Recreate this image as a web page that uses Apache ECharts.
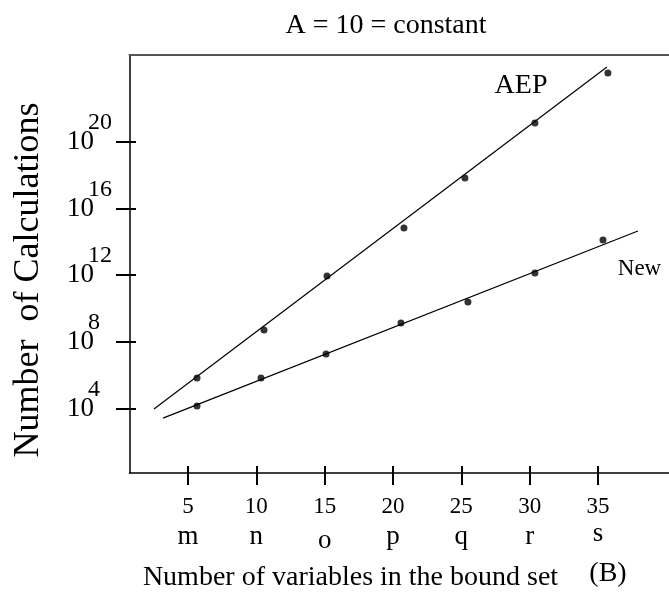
<!DOCTYPE html>
<html>
<head>
<meta charset="utf-8">
<title>Number of Calculations</title>
<script src="https://cdn.jsdelivr.net/npm/echarts@6/dist/echarts.min.js"></script>
<style>
  html, body { margin: 0; padding: 0; background: #fff; }
  #chart { width: 669px; height: 594px; }
</style>
</head>
<body>
<div id="chart"></div>
<script>
  var FONT = '"Liberation Serif", "Times New Roman", serif';

  // measured points, y kept as log10 of the number of calculations
  var aepX = [5.66, 10.56, 15.17, 20.80, 25.26, 30.38, 35.72];
  var aepLog10 = [5.84, 8.72, 11.95, 14.83, 17.82, 21.12, 24.11];
  var newX = [5.66, 10.34, 15.10, 20.58, 25.48, 30.38, 35.36];
  var newLog10 = [4.16, 5.84, 7.28, 9.13, 10.39, 12.13, 14.11];

  // fitted straight lines, end points
  var aepFitX = [2.51, 35.65];
  var aepFitLog10 = [3.98, 24.47];
  var newFitX = [3.17, 37.92];
  var newFitLog10 = [3.44, 14.65];

  var xTicks = [5, 10, 15, 20, 25, 30, 35];
  var xLetters = ['m', 'n', 'o', 'p', 'q', 'r', 's'];
  var yTicks = [4, 8, 12, 16, 20];

  function pairs(xs, ys) {
    return xs.map(function (x, i) { return [x, ys[i]]; });
  }

  var chart = echarts.init(document.getElementById('chart'));

  var xRange = { min: 0.72, max: 40.19 };
  var yRange = { min: 0.15, max: 25.19 };

  chart.setOption({
    animation: false,
    backgroundColor: '#fff',
    grid: { left: 129.5, right: 0, top: 55, bottom: 121 },
    xAxis: [{
      type: 'value', position: 'bottom', min: xRange.min, max: xRange.max,
      splitLine: { show: false },
      axisLine: { onZero: false, lineStyle: { color: '#000', width: 1.5 } },
      axisTick: { customValues: xTicks, length: 12, lineStyle: { color: '#000', width: 2 } },
      axisLabel: {
        customValues: xTicks,
        margin: 20.5,
        color: '#000',
        formatter: function (v) {
          var i = xTicks.indexOf(v);
          var l = xLetters[i];
          var key = l === 'o' ? 'low' : (l === 's' ? 'high' : 'let');
          return '{num|' + v + '}\n{' + key + '|' + l + '}';
        },
        rich: {
          num: { fontFamily: FONT, fontSize: 23, lineHeight: 26, color: '#000' },
          let: { fontFamily: FONT, fontSize: 27, lineHeight: 35, color: '#000' },
          low: { fontFamily: FONT, fontSize: 27, lineHeight: 35, color: '#000', padding: [8, 0, 0, 0] },
          high: { fontFamily: FONT, fontSize: 27, lineHeight: 35, color: '#000', padding: [0, 0, 6, 0] }
        }
      }
    }, {
      type: 'value', position: 'bottom', min: xRange.min, max: xRange.max,
      splitLine: { show: false },
      axisLine: { show: false, onZero: false },
      axisTick: { customValues: xTicks, inside: true, length: 7, lineStyle: { color: '#000', width: 2 } },
      axisLabel: { show: false }
    }, {
      type: 'value', position: 'top', min: xRange.min, max: xRange.max,
      splitLine: { show: false },
      axisLine: { onZero: false, lineStyle: { color: '#555', width: 2 } },
      axisTick: { show: false },
      axisLabel: { show: false }
    }],
    yAxis: [{
      type: 'value', position: 'left', min: yRange.min, max: yRange.max,
      splitLine: { show: false },
      axisLine: { onZero: false, lineStyle: { color: '#000', width: 1.5 } },
      axisTick: { customValues: yTicks, length: 13.5, lineStyle: { color: '#000', width: 2 } },
      axisLabel: {
        customValues: yTicks,
        align: 'left',
        margin: 62.5,
        formatter: function (v) { return '{b|10}{s|' + v + '}'; },
        rich: {
          b: { fontFamily: FONT, fontSize: 27, lineHeight: 28, color: '#000' },
          s: { fontFamily: FONT, fontSize: 24, lineHeight: 24, color: '#000', padding: [0, 0, 38, -6] }
        }
      }
    }, {
      type: 'value', position: 'left', min: yRange.min, max: yRange.max,
      splitLine: { show: false },
      axisLine: { show: false, onZero: false },
      axisTick: { customValues: yTicks, inside: true, length: 6.5, lineStyle: { color: '#000', width: 2 } },
      axisLabel: { show: false }
    }],
    graphic: [
      { type: 'text', x: 386, y: 26, style: { text: 'A = 10 = constant', font: '28px ' + FONT, fill: '#000', align: 'center', verticalAlign: 'middle' } },
      { type: 'text', x: 28.5, y: 280, rotation: Math.PI / 2, style: { text: 'Number  of Calculations', font: '36px ' + FONT, fill: '#000', align: 'center', verticalAlign: 'middle' } },
      { type: 'text', x: 350.5, y: 577.5, style: { text: 'Number of variables in the bound set', font: '28px ' + FONT, fill: '#000', align: 'center', verticalAlign: 'middle' } },
      { type: 'text', x: 608, y: 574, style: { text: '(B)', font: '28px ' + FONT, fill: '#000', align: 'center', verticalAlign: 'middle' } },
      { type: 'text', x: 521, y: 86, style: { text: 'AEP', font: '28px ' + FONT, fill: '#000', align: 'center', verticalAlign: 'middle' } },
      { type: 'text', x: 639.5, y: 269, style: { text: 'New', font: '23px ' + FONT, fill: '#000', align: 'center', verticalAlign: 'middle' } }
    ],
    series: [
      { name: 'AEP fit', type: 'line', data: pairs(aepFitX, aepFitLog10), showSymbol: false, silent: true,
        lineStyle: { color: '#000', width: 1.2 } },
      { name: 'New fit', type: 'line', data: pairs(newFitX, newFitLog10), showSymbol: false, silent: true,
        lineStyle: { color: '#000', width: 1.2 } },
      { name: 'AEP', type: 'scatter', data: pairs(aepX, aepLog10), symbolSize: 7, itemStyle: { color: '#000' } },
      { name: 'New', type: 'scatter', data: pairs(newX, newLog10), symbolSize: 7, itemStyle: { color: '#000' } }
    ]
  });
</script>
</body>
</html>
